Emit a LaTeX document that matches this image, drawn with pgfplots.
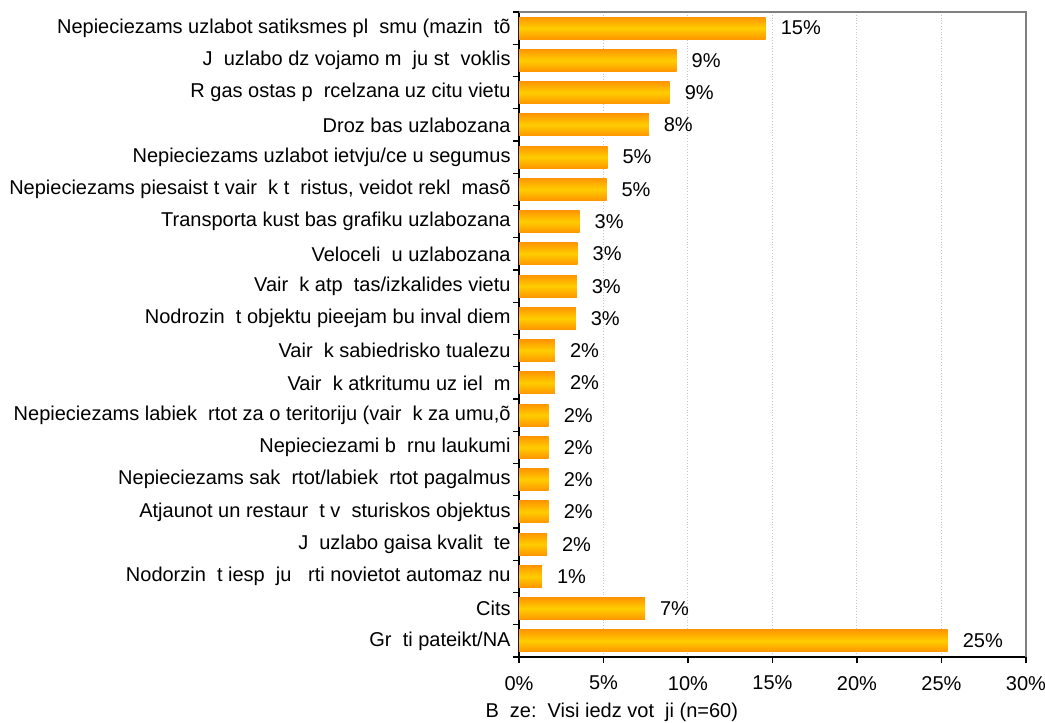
\documentclass[border=0pt]{standalone}
\usepackage{pgfplots}
\pgfplotsset{compat=1.18}
\usepackage{pgfplotstable}
\usepackage{fontspec}
\setmainfont{Liberation Sans}

\definecolor{barEdge}{RGB}{255,150,0}
\definecolor{barMid}{RGB}{255,205,0}
\definecolor{frameGray}{RGB}{128,128,128}

% answers, top to bottom: position, share (%), printed label
\pgfplotstableread{
pos val lab
0  14.6 15
1  9.33 9
2  8.92 9
3  7.68 8
4  5.24 5
5  5.18 5
6  3.59 3
7  3.47 3
8  3.42 3
9  3.36 3
10 2.13 2
11 2.13 2
12 1.76 2
13 1.76 2
14 1.76 2
15 1.76 2
16 1.66 2
17 1.36 1
18 7.46 7
19 25.37 25
}\answers

\begin{document}
\begin{tikzpicture}
\useasboundingbox (-259.5pt,-33pt) rectangle (263pt,328.5pt);
\begin{axis}[
    at={(0,0)}, anchor=south west,
    scale only axis,
    width=253.5pt, height=322.5pt,
    font=\fontsize{10}{11}\selectfont,
    xbar, bar width=11pt, bar shift=0pt,
    xmin=0, xmax=30,
    ymin=-0.5, ymax=19.5,
    y dir=reverse,
    axis x line*=bottom, axis y line*=left,
    axis line style={black, line width=0.8pt},
    xtick={0,5,...,30},
    xticklabel={\pgfmathprintnumber{\tick}\%},
    /pgf/number format/assume math mode=true,
    ytick={0,...,19},
    yticklabels={
        {Nepieciezams uzlabot satiksmes pl\ \ smu (mazin\ \ tõ},
        {J\ \ uzlabo dz vojamo m\ \ ju st\ \ voklis},
        {R gas ostas p\ \ rcelzana uz citu vietu},
        {Droz bas uzlabozana},
        {Nepieciezams uzlabot ietvju/ce u segumus},
        {Nepieciezams piesaist t vair\ \ k t\ \ ristus, veidot rekl\ \ masõ},
        {Transporta kust bas grafiku uzlabozana},
        {Veloceli\ \ u uzlabozana},
        {Vair\ \ k atp\ \ tas/izkalides vietu},
        {Nodrozin\ \ t objektu pieejam bu inval diem},
        {Vair\ \ k sabiedrisko tualezu},
        {Vair\ \ k atkritumu uz iel\ \ m},
        {Nepieciezams labiek\ \ rtot za o teritoriju (vair\ \ k za umu,õ},
        {Nepieciezami b\ \ rnu laukumi},
        {Nepieciezams sak\ \ rtot/labiek\ \ rtot pagalmus},
        {Atjaunot un restaur\ \ t v\ \ sturiskos objektus},
        {J\ \ uzlabo gaisa kvalit\ \ te},
        {Nodorzin\ \ t iesp\ \ ju\ \ \ rti novietot automaz nu},
        {Cits},
        {Gr\ \ ti pateikt/NA}
    },
    yticklabel style={inner xsep=1pt},
    major tick length=3pt,
    tick align=outside,
    major y tick style={draw=none},
    minor ytick={-0.5,0.5,...,19.5},
    minor tick length=3pt,
    minor y tick style={black, line width=0.6pt},
    major x tick style={black, line width=0.6pt},
    xmajorgrids,
    grid style={densely dotted, gray!45, line width=0.5pt},
    xlabel={B\ \ ze:\ \ Visi iedz vot\ \ ji (n=60)},
    xlabel style={at={(axis description cs:0.183,0)}, anchor=north, yshift=-19.5pt},
    x tick label style={yshift=-3pt},
    point meta=explicit symbolic,
    nodes near coords={\pgfplotspointmeta\%},
    nodes near coords style={anchor=west, xshift=4pt},
    clip=false,
]
% one plot per bar so that each bar gets its own gradient
\pgfplotsinvokeforeach{0,...,19}{
\addplot[draw=none, top color=barEdge, bottom color=barEdge, middle color=barMid,
    restrict y to domain=#1:#1]
    table[x=val, y=pos, meta=lab] {\answers};
}
\draw[frameGray, line width=1pt] (rel axis cs:0,1) -- (rel axis cs:1,1) -- (rel axis cs:1,0);
\end{axis}
\end{tikzpicture}
\end{document}
